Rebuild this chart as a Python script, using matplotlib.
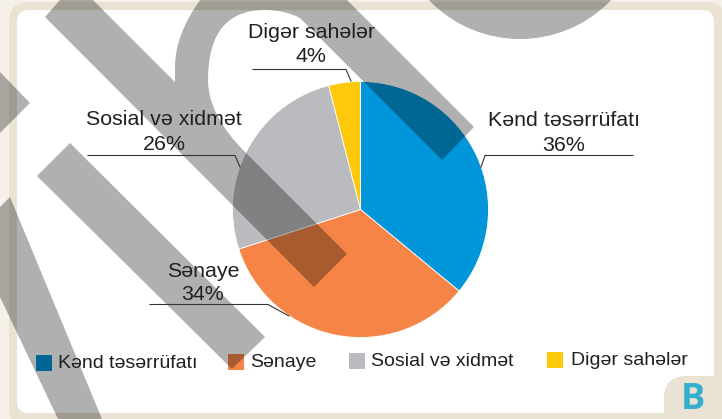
import matplotlib
matplotlib.use("Agg")
import matplotlib.pyplot as plt
from matplotlib.patches import Circle, FancyBboxPatch, PathPatch, Polygon, Rectangle
from matplotlib.path import Path

plt.rcParams["font.family"] = ["Liberation Sans", "DejaVu Sans"]

categories = ["Kənd təsərrüfatı", "Sənaye", "Sosial və xidmət", "Digər sahələr"]
shares = [36, 34, 26, 4]
slice_colors = ["#0096D9", "#F68446", "#B9BBBF", "#FFC90B"]

# label centre x, name y, percent y
label_pos = [(564, 120, 145), (203, 271, 294), (164, 119, 144), (311, 32, 56)]
leaders = [
    [(633, 155.5), (485, 155.5), (481, 167)],
    [(150, 304.5), (268, 304.5), (289, 316)],
    [(88, 155.5), (235, 155.5), (240, 167)],
    [(253, 69.5), (346, 69.5), (351, 81)],
]
# swatch left, swatch top, text x
legend_pos = [(36, 355, 58), (228, 354, 250), (349, 353, 371), (547, 352, 571)]

W, H = 722, 419
TEXT = "#231F20"

fig = plt.figure(figsize=(W / 100, H / 100), dpi=100)


def pixel_axes(zorder):
    ax = fig.add_axes([0, 0, 1, 1], zorder=zorder)
    ax.set_xlim(0, W)
    ax.set_ylim(H, 0)
    ax.axis("off")
    return ax


def rounded(ax, x0, y0, x1, y1, r, color):
    ax.add_patch(FancyBboxPatch((x0 + r, y0 + r), x1 - x0 - 2 * r, y1 - y0 - 2 * r,
                                boxstyle=f"round,pad={r},rounding_size={r}",
                                fc=color, ec="none"))


# page frame
back = pixel_axes(0)
back.add_patch(Rectangle((0, 0), W, H, fc="#F5F1E8", ec="none"))
rounded(back, 9, 2, 726, 428, 20, "#EAE2D3")
rounded(back, 17, 10, 714, 413, 12, "white")
rounded(back, 664, 376, 740, 440, 22, "#EAE2D3")
back.text(692.5, 400, "B", color="#35AFCB", fontsize=26, fontweight="bold",
          family="Open Sans", ha="center", va="center")

# pie
cx, cy, r = 360.5, 209.5, 128
pie_ax = fig.add_axes([(cx - r) / W, (H - cy - r) / H, 2 * r / W, 2 * r / H], zorder=1)
pie_ax.pie(shares, colors=slice_colors, startangle=90, counterclock=False, radius=1,
           wedgeprops={"edgecolor": "white", "linewidth": 0.6})
pie_ax.set_xlim(-1, 1)
pie_ax.set_ylim(-1, 1)

top = pixel_axes(2)

# legend swatches sit under the watermark
for (sx, sy, tx), name, color in zip(legend_pos, categories, slice_colors):
    top.add_patch(Rectangle((sx, sy), 16, 16, fc=color, ec="none"))

# watermark
shade = {"fc": "black", "alpha": 0.31, "ec": "none"}
L, C3 = Path.LINETO, Path.CURVE3
verts = [(60, 0), (45, 17), (314, 287), (347, 254), (245, 152),
         (208, 115), (208, 80), (208, 10), (265, 10), (285, 10), (300, 18),
         (442, 160), (474, 127), (347, 0), (200, 0),
         (175, 35), (175, 67), (175, 82), (93, 0), (60, 0)]
codes = [Path.MOVETO, L, L, L, L, C3, C3, C3, C3, C3, C3, L, L, L, L,
         C3, C3, L, L, Path.CLOSEPOLY]
top.add_patch(PathPatch(Path(verts, codes), **shade))
top.add_patch(Polygon([(70, 143), (37, 176), (232, 369), (265, 337)], **shade))
top.add_patch(Polygon([(0, 72), (30, 103), (0, 133)], **shade))
top.add_patch(Polygon([(10, 197), (102, 419), (58, 419), (0, 297), (0, 207)], **shade))
top.add_patch(Circle((520, -87), 126, **shade))

# labels
for name, share, (x, y1, y2), line in zip(categories, shares, label_pos, leaders):
    top.text(x, y1, name, fontsize=15.4, color=TEXT, ha="center", va="center")
    top.text(x, y2, f"{share}%", fontsize=15.4, color=TEXT, ha="center", va="center")
    top.plot([p[0] for p in line], [p[1] for p in line], color="#333333", lw=0.8)

for (sx, sy, tx), name in zip(legend_pos, categories):
    top.text(tx, sy + 8.5, name, fontsize=14, color=TEXT, ha="left", va="center")

fig.savefig("out.png", dpi=100)
